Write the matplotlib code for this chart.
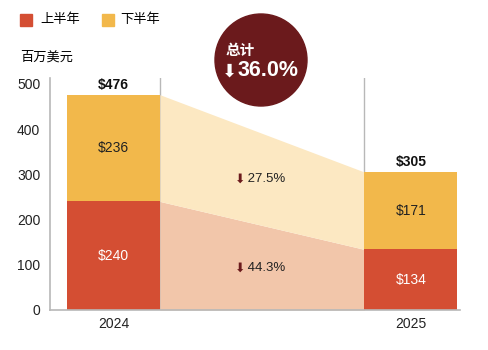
import numpy as np
from matplotlib import pyplot as plt
from matplotlib.patches import Circle

plt.rcParams['font.family'] = ['Liberation Sans', 'Noto Sans CJK SC', 'DejaVu Sans']

years = ['2024', '2025']
first_half = [240, 134]
second_half = [236, 171]
totals = [476, 305]
change_first = '44.3%'
change_second = '27.5%'
change_total = '36.0%'

RED = '#d44e33'
YELLOW = '#f2b84b'
RED_LIGHT = '#f2c6aa'
YELLOW_LIGHT = '#fce8c2'
MAROON = '#6b1a1c'
GRID = '#b8b8b8'


def main():
    fig = plt.figure(figsize=(4.88, 3.5), dpi=100)
    ax = fig.add_axes([0.1025, 0.1143, 0.840, 0.663])

    x = np.arange(len(years))
    w = 0.3126
    ax.bar(x, first_half, w, color=RED, zorder=2)
    ax.bar(x, second_half, w, bottom=first_half, color=YELLOW, zorder=2)

    # connecting bands between the bars
    xl, xr = x[0] + w / 2, x[1] - w / 2
    ax.fill_between([xl, xr], [0, 0], first_half, color=RED_LIGHT, lw=0, zorder=1)
    ax.fill_between([xl, xr], first_half, totals, color=YELLOW_LIGHT, lw=0, zorder=1)
    for xv in (xl, xr):
        ax.axvline(xv, color=GRID, lw=1, zorder=0)

    for i in range(len(years)):
        ax.text(x[i], first_half[i] / 2, f'${first_half[i]}', ha='center', va='center',
                color='white', fontsize=10)
        ax.text(x[i], first_half[i] + second_half[i] / 2, f'${second_half[i]}',
                ha='center', va='center', color='#222222', fontsize=10)
        ax.text(x[i], totals[i] + 6, f'${totals[i]}', ha='center', va='bottom',
                color='#111111', fontsize=10, fontweight='bold')

    xm = (xl + xr) / 2
    lower_mid = (first_half[0] + first_half[1]) / 2 / 2
    upper_mid = ((first_half[0] + first_half[1]) / 2 + (totals[0] + totals[1]) / 2) / 2
    for yv, label in ((lower_mid, change_first), (upper_mid, change_second)):
        ax.text(xm - 0.055, yv, '\u2b07', ha='right', va='center', color=MAROON,
                fontsize=9, family=['DejaVu Sans'])
        ax.text(xm - 0.06, yv, ' ' + label, ha='left', va='center', color='#222222',
                fontsize=9.5)

    ax.set_xlim(-0.213, 1.165)
    ax.set_ylim(0, 513)
    ax.set_yticks([0, 100, 200, 300, 400, 500])
    ax.set_xticks(x)
    ax.set_xticklabels(years)
    ax.tick_params(length=0, labelsize=10, colors='#222222')
    ax.tick_params(axis='y', pad=7)
    ax.tick_params(axis='x', pad=5)
    for s in ('top', 'right'):
        ax.spines[s].set_visible(False)
    for s in ('left', 'bottom'):
        ax.spines[s].set_color(GRID)
        ax.spines[s].set_linewidth(1.2)

    # legend
    fig.patches.append(plt.Rectangle((20 / 488, 1 - 26 / 350), 12 / 488, 12 / 350,
                                     color=RED, transform=fig.transFigure))
    fig.text(40 / 488, 1 - 20 / 350, '上半年', va='center', fontsize=9.5,
             family=['Noto Sans CJK SC'])
    fig.patches.append(plt.Rectangle((102 / 488, 1 - 26 / 350), 12 / 488, 12 / 350,
                                     color=YELLOW, transform=fig.transFigure))
    fig.text(120 / 488, 1 - 20 / 350, '下半年', va='center', fontsize=9.5,
             family=['Noto Sans CJK SC'])
    fig.text(20 / 488, 1 - 57 / 350, '百万美元', va='center', fontsize=9.5,
             family=['Noto Sans CJK SC'])

    # total badge
    circ = Circle((261, 350 - 60), 46, color=MAROON, transform=None)
    fig.patches.append(circ)
    fig.text(226 / 488, 1 - 50 / 350, '总计', va='center', ha='left', color='white',
             fontsize=10.5, fontweight='bold', family=['Noto Sans CJK SC'])
    fig.text(222 / 488, 1 - 72 / 350, '\u2b07', va='center', ha='left', color='white',
             fontsize=13, family=['DejaVu Sans'])
    fig.text(238 / 488, 1 - 71 / 350, change_total, va='center', ha='left', color='white',
             fontsize=15.5, fontweight='bold')

    fig.savefig('out.png', dpi=100)


if __name__ == "__main__":
    main()
